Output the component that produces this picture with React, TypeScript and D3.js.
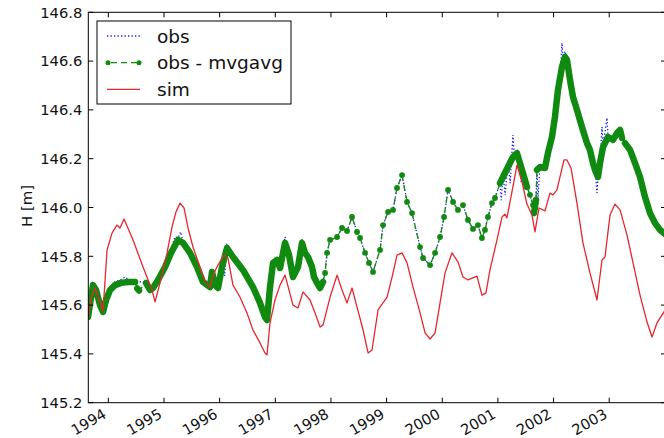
import * as d3 from "d3";

const W = 664;
const H = 438;
// plot frame (right spine sits just outside the window, as in the source image)
const FRAME = { left: 88.3, top: 12.3, right: 666, bottom: 402.7 };

type Pt = [number, number]; // [decimal year, H in m]

const YEAR_TICKS = [1994, 1995, 1996, 1997, 1998, 1999, 2000, 2001, 2002, 2003];
const H_TICKS = [145.2, 145.4, 145.6, 145.8, 146.0, 146.2, 146.4, 146.6, 146.8];

// simulated water level
const SIM: Pt[] = [
    [1993.635, 145.547], [1993.707, 145.641], [1993.761, 145.67], [1993.833, 145.621], [1993.905, 145.576],
    [1993.977, 145.826], [1994.066, 145.895], [1994.156, 145.928], [1994.21, 145.916], [1994.282, 145.953],
    [1994.444, 145.867], [1994.623, 145.756], [1994.785, 145.662], [1994.839, 145.613], [1994.929, 145.691],
    [1995.055, 145.814], [1995.144, 145.92], [1995.216, 145.982], [1995.288, 146.018], [1995.36, 145.998],
    [1995.432, 145.916], [1995.521, 145.838], [1995.647, 145.756], [1995.737, 145.695], [1995.827, 145.674],
    [1995.881, 145.723], [1995.97, 145.764], [1996.078, 145.805], [1996.15, 145.793], [1996.24, 145.682],
    [1996.365, 145.633], [1996.491, 145.568], [1996.599, 145.498], [1996.725, 145.445], [1996.815, 145.404],
    [1996.851, 145.396], [1996.905, 145.527], [1996.995, 145.621], [1997.085, 145.682], [1997.175, 145.723],
    [1997.318, 145.6], [1997.408, 145.588], [1997.498, 145.654], [1997.624, 145.621], [1997.714, 145.568],
    [1997.804, 145.51], [1997.858, 145.519], [1997.984, 145.633], [1998.11, 145.723], [1998.199, 145.662],
    [1998.289, 145.609], [1998.379, 145.67], [1998.469, 145.592], [1998.577, 145.498], [1998.667, 145.404],
    [1998.738, 145.416], [1998.846, 145.58], [1999.008, 145.633], [1999.098, 145.715], [1999.187, 145.805],
    [1999.277, 145.814], [1999.367, 145.773], [1999.475, 145.674], [1999.601, 145.568], [1999.691, 145.486],
    [1999.781, 145.461], [1999.871, 145.486], [1999.96, 145.609], [2000.05, 145.732], [2000.174, 145.814],
    [2000.282, 145.777], [2000.372, 145.715], [2000.462, 145.703], [2000.624, 145.719], [2000.713, 145.641],
    [2000.785, 145.65], [2000.857, 145.744], [2000.983, 145.867], [2001.073, 145.961], [2001.126, 145.973],
    [2001.162, 145.957], [2001.252, 146.064], [2001.342, 146.174], [2001.432, 146.105], [2001.522, 146.014],
    [2001.612, 145.969], [2001.666, 145.9], [2001.738, 145.998], [2001.846, 145.986], [2001.935, 146.059],
    [2001.989, 146.052], [2002.061, 146.072], [2002.187, 146.195], [2002.241, 146.195], [2002.313, 146.162],
    [2002.42, 146.018], [2002.528, 145.855], [2002.654, 145.732], [2002.78, 145.621], [2002.87, 145.785],
    [2002.924, 145.797], [2003.014, 145.969], [2003.104, 146.014], [2003.194, 145.99], [2003.32, 145.887],
    [2003.428, 145.773], [2003.553, 145.641], [2003.679, 145.531], [2003.769, 145.469], [2003.858, 145.527],
    [2003.984, 145.572], [2004.05, 145.6],
];

// obs - mvgavg: dense daily stretches (drawn as a marker band) and the sparse 1998-2000 readings
const MVG_1994: Pt[] = [
    [1993.635, 145.551], [1993.725, 145.682], [1993.779, 145.662], [1993.851, 145.6], [1993.905, 145.572],
    [1993.959, 145.621], [1994.031, 145.662], [1994.12, 145.682], [1994.228, 145.691], [1994.354, 145.695],
    [1994.48, 145.695],
];
const MVG_1994_FRAG: Pt[] = [[1994.52, 145.668], [1994.55, 145.66]];
const MVG_1995_97: Pt[] = [
    [1994.677, 145.691], [1994.749, 145.662], [1994.803, 145.67], [1994.893, 145.703], [1995.019, 145.756],
    [1995.126, 145.814], [1995.252, 145.867], [1995.342, 145.855], [1995.468, 145.814], [1995.594, 145.756],
    [1995.701, 145.695], [1995.827, 145.674], [1995.863, 145.736], [1995.917, 145.682], [1995.97, 145.67],
    [1996.042, 145.756], [1996.132, 145.834], [1996.24, 145.797], [1996.419, 145.744], [1996.599, 145.674],
    [1996.725, 145.609], [1996.815, 145.551], [1996.851, 145.539], [1996.905, 145.674], [1996.959, 145.773],
    [1997.031, 145.785], [1997.085, 145.752], [1997.175, 145.855], [1997.247, 145.805], [1997.318, 145.715],
    [1997.408, 145.756], [1997.48, 145.855], [1997.534, 145.814], [1997.588, 145.797], [1997.66, 145.756],
    [1997.696, 145.715], [1997.75, 145.691], [1997.804, 145.67], [1997.858, 145.695],
];
const MVG_SPARSE: Pt[] = [
    [1997.894, 145.732], [1997.93, 145.814], [1997.984, 145.867], [1998.11, 145.879], [1998.199, 145.916],
    [1998.289, 145.904], [1998.379, 145.961], [1998.469, 145.9], [1998.523, 145.875], [1998.613, 145.814],
    [1998.684, 145.773], [1998.756, 145.736], [1998.882, 145.826], [1998.936, 145.928], [1999.026, 145.982],
    [1999.115, 145.99], [1999.187, 146.08], [1999.277, 146.133], [1999.367, 146.023], [1999.457, 145.977],
    [1999.601, 145.838], [1999.655, 145.793], [1999.781, 145.764], [1999.871, 145.814], [1999.96, 145.879],
    [2000.032, 145.961], [2000.104, 146.072], [2000.194, 146.023], [2000.282, 145.99], [2000.372, 146.01],
    [2000.462, 145.949], [2000.552, 145.912], [2000.642, 145.928], [2000.713, 145.875], [2000.767, 145.908],
    [2000.821, 145.961], [2000.893, 146.018], [2000.947, 146.039],
];
const MVG_2001: Pt[] = [
    [2001.037, 146.1], [2001.091, 146.125], [2001.18, 146.166], [2001.27, 146.207], [2001.342, 146.223],
    [2001.396, 146.182], [2001.45, 146.141], [2001.522, 146.084],
];
const MVG_2001_GAP: Pt[] = [[2001.576, 146.052], [2001.63, 146.01]];
const MVG_2001_BLOB: Pt[] = [[2001.648, 145.977], [2001.684, 146.031]];
const MVG_2002: Pt[] = [
    [2001.702, 146.154], [2001.756, 146.166], [2001.846, 146.162], [2001.899, 146.223], [2001.971, 146.289],
    [2002.025, 146.371], [2002.079, 146.482], [2002.151, 146.576], [2002.205, 146.617], [2002.241, 146.605],
    [2002.295, 146.523], [2002.349, 146.453], [2002.42, 146.4], [2002.51, 146.33], [2002.6, 146.264],
    [2002.654, 146.236], [2002.708, 146.182], [2002.744, 146.154], [2002.798, 146.125], [2002.834, 146.182],
    [2002.888, 146.248], [2002.978, 146.289], [2003.068, 146.277], [2003.14, 146.305], [2003.194, 146.318],
    [2003.23, 146.285],
];
const MVG_2003: Pt[] = [
    [2003.284, 146.264], [2003.374, 146.236], [2003.464, 146.182], [2003.553, 146.125], [2003.643, 146.043],
    [2003.733, 145.977], [2003.823, 145.936], [2003.913, 145.908], [2004.003, 145.891],
];

// raw observations in the daily stretches (noisier than the band)
const OBS_1994: Pt[] = [
    [1993.635, 145.56], [1993.725, 145.69], [1993.779, 145.67], [1993.851, 145.61], [1993.905, 145.58],
    [1993.959, 145.63], [1994.031, 145.675], [1994.12, 145.695], [1994.228, 145.705], [1994.3, 145.715],
    [1994.354, 145.705], [1994.48, 145.7],
];
const OBS_1995_97: Pt[] = [
    [1994.677, 145.69], [1994.749, 145.665], [1994.803, 145.675], [1994.893, 145.71], [1995.019, 145.765],
    [1995.126, 145.83], [1995.2, 145.88], [1995.252, 145.875], [1995.3, 145.9], [1995.342, 145.86],
    [1995.468, 145.82], [1995.594, 145.76], [1995.701, 145.7], [1995.827, 145.68], [1995.863, 145.745],
    [1995.917, 145.68], [1995.97, 145.67], [1996.042, 145.77], [1996.09, 145.72], [1996.132, 145.845],
    [1996.24, 145.8], [1996.419, 145.75], [1996.599, 145.68], [1996.725, 145.615], [1996.815, 145.555],
    [1996.851, 145.54], [1996.905, 145.68], [1996.959, 145.78], [1997.031, 145.79], [1997.085, 145.755],
    [1997.175, 145.88], [1997.247, 145.81], [1997.318, 145.72], [1997.408, 145.76], [1997.48, 145.87],
    [1997.534, 145.82], [1997.588, 145.8], [1997.66, 145.76], [1997.696, 145.72], [1997.75, 145.69],
    [1997.804, 145.67], [1997.858, 145.7],
];
const OBS_2001: Pt[] = [
    [2001.037, 146.1], [2001.06, 146.03], [2001.091, 146.14], [2001.13, 146.05], [2001.18, 146.19],
    [2001.22, 146.1], [2001.27, 146.297], [2001.3, 146.2], [2001.342, 146.24], [2001.396, 146.19],
    [2001.42, 146.1], [2001.45, 146.15], [2001.522, 146.09], [2001.576, 146.05], [2001.63, 146.01],
    [2001.648, 145.98], [2001.684, 146.03],
];
const OBS_2002_03: Pt[] = [
    [2001.702, 146.16], [2001.72, 146.04], [2001.756, 146.17], [2001.846, 146.17], [2001.899, 146.23],
    [2001.971, 146.3], [2002.025, 146.38], [2002.079, 146.5], [2002.12, 146.55], [2002.151, 146.674],
    [2002.17, 146.6], [2002.205, 146.64], [2002.241, 146.61], [2002.295, 146.53], [2002.33, 146.47],
    [2002.349, 146.46], [2002.42, 146.4], [2002.51, 146.34], [2002.6, 146.27], [2002.654, 146.24],
    [2002.708, 146.18], [2002.744, 146.16], [2002.78, 146.06], [2002.798, 146.13], [2002.834, 146.19],
    [2002.87, 146.33], [2002.888, 146.25], [2002.96, 146.367], [2002.978, 146.29], [2003.068, 146.28],
    [2003.14, 146.31], [2003.194, 146.33], [2003.23, 146.28], [2003.284, 146.27], [2003.374, 146.245],
    [2003.464, 146.19], [2003.553, 146.13], [2003.643, 146.05], [2003.733, 145.98], [2003.823, 145.925],
    [2003.913, 145.895], [2004.003, 145.89],
];

const BLUE = "#1a1aee";
const GREEN = "#108a10";
const RED = "#e4262e";
const FONT = "'DejaVu Sans', sans-serif";

export default function App() {
    const x = d3.scaleLinear().domain([1993.64, 2004.02]).range([FRAME.left, FRAME.right]);
    const y = d3.scaleLinear().domain([145.2, 146.8]).range([FRAME.bottom, FRAME.top]);
    const line = d3.line<Pt>().x((d) => x(d[0])).y((d) => y(d[1]));

    const denseMvg = [MVG_1994, MVG_1994_FRAG, MVG_1995_97, MVG_2001, MVG_2001_BLOB, MVG_2002, MVG_2003];
    const allMvg = [
        ...MVG_1994, ...MVG_1994_FRAG, ...MVG_1995_97, ...MVG_SPARSE, ...MVG_2001,
        ...MVG_2001_GAP, ...MVG_2001_BLOB, ...MVG_2002, ...MVG_2003,
    ];
    const allObs = [...OBS_1994, ...OBS_1995_97, ...MVG_SPARSE, ...OBS_2001, ...OBS_2002_03];
    const markerPts = [...MVG_SPARSE, ...MVG_2001_GAP];
    const TICK = 5;

    return (
        <div style={{ position: "absolute", left: 0, top: 0 }}>
            <svg width={W} height={H} style={{ display: "block", background: "#fff" }} fontFamily={FONT}>
                <defs>
                    <clipPath id="plot">
                        <rect x={FRAME.left} y={FRAME.top} width={FRAME.right - FRAME.left} height={FRAME.bottom - FRAME.top} />
                    </clipPath>
                </defs>

                <g clipPath="url(#plot)">
                    <path d={line(allObs) ?? ""} fill="none" stroke={BLUE} strokeWidth={1.3} strokeDasharray="1.3,2.2" />
                    {denseMvg.map((seg, i) => (
                        <path key={i} d={line(seg) ?? ""} fill="none" stroke={GREEN} strokeWidth={6.5} strokeLinejoin="round" strokeLinecap="round" />
                    ))}
                    <path d={line(allMvg) ?? ""} fill="none" stroke={GREEN} strokeWidth={1.3} strokeDasharray="6,4" />
                    {markerPts.map((d, i) => (
                        <circle key={i} cx={x(d[0])} cy={y(d[1])} r={2.9} fill={GREEN} />
                    ))}
                    <path d={line(SIM) ?? ""} fill="none" stroke={RED} strokeWidth={1.3} strokeLinejoin="round" />
                </g>

                {/* frame and inward ticks on all four sides */}
                <rect x={FRAME.left} y={FRAME.top} width={FRAME.right - FRAME.left} height={FRAME.bottom - FRAME.top} fill="none" stroke="#000" strokeWidth={1} />
                {YEAR_TICKS.map((t) => (
                    <g key={t} stroke="#000" strokeWidth={1}>
                        <line x1={x(t)} x2={x(t)} y1={FRAME.bottom} y2={FRAME.bottom - TICK} />
                        <line x1={x(t)} x2={x(t)} y1={FRAME.top} y2={FRAME.top + TICK} />
                    </g>
                ))}
                {H_TICKS.map((t) => (
                    <g key={t} stroke="#000" strokeWidth={1}>
                        <line x1={FRAME.left} x2={FRAME.left + TICK} y1={y(t)} y2={y(t)} />
                        <line x1={FRAME.right} x2={FRAME.right - TICK} y1={y(t)} y2={y(t)} />
                    </g>
                ))}

                {H_TICKS.map((t) => (
                    <text key={t} x={FRAME.left - 6} y={y(t)} dy="0.36em" textAnchor="end" fontSize={14.7} fill="#111">
                        {t.toFixed(1)}
                    </text>
                ))}
                {YEAR_TICKS.map((t) => (
                    <text key={t} transform={`translate(${x(t) - 1},417) rotate(-30)`} textAnchor="end" fontSize={14.7} fill="#111">
                        {t}
                    </text>
                ))}
                <text transform="translate(32,206) rotate(-90)" textAnchor="middle" fontSize={14.9} fill="#111">
                    H [m]
                </text>

                {/* legend */}
                <g>
                    <rect x={97} y={21} width={194} height={83} fill="#fff" stroke="#000" strokeWidth={1} />
                    <line x1={107} x2={140} y1={36} y2={36} stroke={BLUE} strokeWidth={1.3} strokeDasharray="1.3,2.2" />
                    <line x1={108} x2={139} y1={62.7} y2={62.7} stroke={GREEN} strokeWidth={1.3} strokeDasharray="6,4" strokeDashoffset={-3} />
                    <circle cx={108} cy={62.7} r={2.5} fill={GREEN} />
                    <circle cx={139} cy={62.7} r={2.5} fill={GREEN} />
                    <line x1={107} x2={140} y1={89.3} y2={89.3} stroke={RED} strokeWidth={1.3} />
                    {["obs", "obs - mvgavg", "sim"].map((s, i) => (
                        <text key={s} x={157} y={36 + i * 26.65} dy="0.36em" fontSize={18.5} fill="#111">
                            {s}
                        </text>
                    ))}
                </g>
            </svg>
        </div>
    );
}
